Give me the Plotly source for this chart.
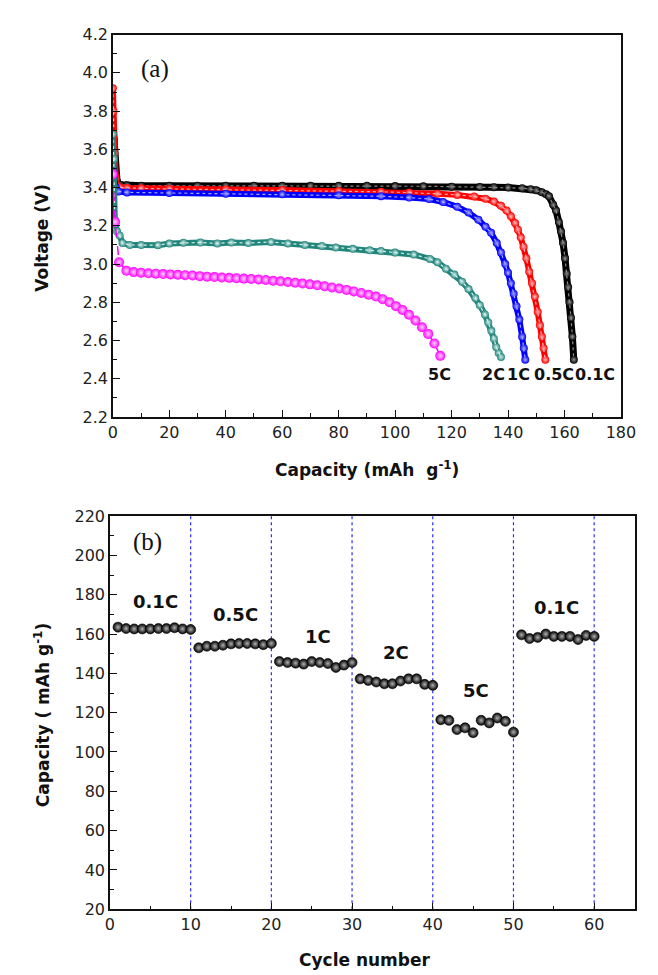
import plotly.graph_objects as go

# ---------------- Panel (a): discharge curves ----------------
cap_01C = [0, 0.3, 0.6, 1.0, 1.5, 2.5, 5, 10, 20, 30, 40, 50, 60, 70, 80, 90, 100, 110, 120, 130,
           135, 140, 145, 148, 150, 152, 153.5, 154.5, 156, 157, 158, 158.8, 159.5, 160.2, 160.8,
           161.3, 161.8, 162.3, 162.8, 163.3]
v_01C = [3.74, 3.65, 3.55, 3.47, 3.43, 3.415, 3.412, 3.41, 3.41, 3.41, 3.41, 3.41, 3.41, 3.41, 3.41,
         3.41, 3.408, 3.407, 3.405, 3.403, 3.402, 3.40, 3.397, 3.392, 3.386, 3.376, 3.365, 3.355, 3.31,
         3.28, 3.22, 3.17, 3.11, 3.03, 2.95, 2.88, 2.80, 2.72, 2.62, 2.50]

cap_05C = [0, 0.2, 0.5, 1.0, 1.5, 2.5, 5, 10, 20, 40, 60, 80, 95, 105, 115, 122, 128, 132, 135,
           137.5, 139.5, 141, 142.5, 143.5, 144.5, 145.5, 146.5, 147.5, 148.5, 149.5, 150.5, 151.3,
           152, 152.6, 153.2]
v_05C = [3.92, 3.80, 3.58, 3.45, 3.41, 3.40, 3.398, 3.396, 3.393, 3.39, 3.387, 3.382, 3.378, 3.374,
         3.368, 3.362, 3.354, 3.342, 3.327, 3.305, 3.28, 3.25, 3.215, 3.18, 3.14, 3.09, 3.03, 2.96,
         2.90, 2.83, 2.75, 2.68, 2.62, 2.56, 2.50]

cap_1C = [0, 0.4, 1.0, 2.0, 5, 20, 40, 60, 80, 95, 105, 112, 117, 122, 126, 129.5, 132, 134, 136,
          137.5, 139, 140, 141, 142, 143, 144, 145, 145.6, 146.1]
v_1C = [3.50, 3.46, 3.40, 3.38, 3.375, 3.372, 3.368, 3.365, 3.36, 3.355, 3.348, 3.34, 3.325, 3.30,
        3.27, 3.232, 3.195, 3.164, 3.11, 3.06, 3.00, 2.955, 2.90, 2.845, 2.78, 2.71, 2.62, 2.56, 2.50]

cap_2C = [0, 0.3, 0.7, 1.5, 2.4, 3.4, 6, 10, 16, 20, 25, 31, 37, 42, 48, 56, 62, 68, 74, 79, 85,
          91, 95, 100, 106.6, 112.3, 115, 118, 121, 123.7, 126, 128.4, 130, 131.8, 133, 134.1, 135,
          135.8, 136.7, 137.5]
v_2C = [3.68, 3.55, 3.23, 3.17, 3.15, 3.11, 3.10, 3.10, 3.099, 3.108, 3.112, 3.113, 3.108, 3.113,
        3.11, 3.116, 3.108, 3.10, 3.095, 3.087, 3.08, 3.072, 3.068, 3.06, 3.05, 3.027, 3.01, 2.976,
        2.945, 2.908, 2.87, 2.823, 2.785, 2.737, 2.695, 2.651, 2.61, 2.566, 2.535, 2.514]

cap_5C = [0, 0.8, 2.2, 4.8, 7.4, 10, 12.6, 15.2, 17.8, 20.4, 23, 25.6, 28.2, 30.8, 33.4, 36, 38.6,
          41.2, 43.8, 46.4, 49, 51.6, 54.2, 56.8, 59.4, 62, 64.6, 67.2, 69.8, 72.4, 75, 77.6, 80.2,
          82.8, 85.4, 88, 90.6, 93.2, 95.6, 98, 100.3, 102.6, 104.9, 107.2, 109.5, 111.7, 113.9, 116.0]
v_5C = [3.47, 3.22, 3.01, 2.965, 2.958, 2.955, 2.952, 2.95, 2.948, 2.946, 2.944, 2.942, 2.94, 2.937,
        2.934, 2.932, 2.93, 2.928, 2.926, 2.924, 2.922, 2.92, 2.917, 2.913, 2.91, 2.906, 2.902, 2.898,
        2.894, 2.889, 2.884, 2.878, 2.872, 2.865, 2.857, 2.849, 2.84, 2.83, 2.816, 2.80, 2.78, 2.76,
        2.735, 2.705, 2.67, 2.635, 2.585, 2.52]

rate_labels_a = ["5C", "2C", "1C", "0.5C", "0.1C"]
rate_label_x_a = [115.8, 134.7, 143.8, 156.4, 170.7]
rate_label_y_a = 2.42

# ---------------- Panel (b): rate capability ----------------
cycles = list(range(1, 61))
capacity_b = [163.5, 162.8, 162.6, 162.6, 162.6, 162.8, 162.8, 163.2, 162.6, 162.3,
              153.0, 153.8, 153.8, 154.3, 155.0, 155.2, 155.2, 155.0, 154.6, 155.2,
              146.0, 145.5, 145.2, 144.7, 146.0, 145.5, 145.0, 143.0, 144.2, 145.5,
              137.2, 136.4, 135.6, 134.7, 134.7, 136.1, 137.2, 137.2, 134.4, 133.9,
              116.4, 116.1, 111.4, 112.3, 109.8, 116.1, 114.8, 117.3, 115.6, 110.1,
              159.6, 157.7, 158.3, 160.0, 158.8, 158.8, 158.8, 157.2, 159.3, 158.8]
rate_labels_b = ["0.1C", "0.5C", "1C", "2C", "5C", "0.1C"]
rate_label_x_b = [5.6, 15.5, 25.8, 35.4, 45.4, 55.3]
rate_label_y_b = [176.6, 170.1, 158.7, 150.7, 131.2, 173.6]
divider_cycles = [10, 20, 30, 40, 50, 60]

W, H = 658, 975
FONT = "DejaVu Sans"

fig = go.Figure()

curves = [
    # x, y, colour, highlight, dash, line width, marker size, speckle overlay
    (cap_01C, v_01C, "#000000", "#8a8a8a", "solid", 7, 8, True),
    (cap_05C, v_05C, "#ff0000", "#ffb4b4", "solid", 6, 8, True),
    (cap_1C, v_1C, "#0000ff", "#a8a8ff", "solid", 6, 8, True),
    (cap_2C, v_2C, "#22857b", "#d6efec", "solid", 6, 8, True),
    (cap_5C, v_5C, "#ff00ff", "#ffd6ff", "dash", 1.5, 10, False),
]
for cx, cy, col, hl, dash, lw, ms, speck in curves:
    fig.add_trace(go.Scatter(
        x=cx, y=cy, mode="lines+markers", xaxis="x", yaxis="y",
        line=dict(color=col, width=lw, dash=dash),
        marker=dict(symbol="circle", size=ms, color=col,
                    gradient=dict(type="radial", color=hl),
                    line=dict(width=0)),
        showlegend=False, hoverinfo="skip"))
    if speck:
        fig.add_trace(go.Scatter(
            x=cx, y=cy, mode="lines", xaxis="x", yaxis="y",
            line=dict(color=hl, width=1.2, dash="dot"),
            showlegend=False, hoverinfo="skip"))

fig.add_trace(go.Scatter(
    x=cycles, y=capacity_b, mode="markers", xaxis="x2", yaxis="y2",
    marker=dict(symbol="circle", size=10, color="#000000",
                gradient=dict(type="radial", color="#b0b0b0"),
                line=dict(width=0.6, color="#000000")),
    showlegend=False, hoverinfo="skip"))

shapes = []
for c in divider_cycles:
    shapes.append(dict(type="line", xref="x2", yref="y2 domain", x0=c, x1=c, y0=0, y1=1,
                       line=dict(color="#2b2bff", width=1.2, dash="dot"), layer="below"))

annotations = []
for t, x in zip(rate_labels_a, rate_label_x_a):
    annotations.append(dict(text=f"<b>{t}</b>", x=x, y=rate_label_y_a, xref="x", yref="y",
                            showarrow=False, font=dict(family=FONT, size=16, color="#111")))
for t, x, y in zip(rate_labels_b, rate_label_x_b, rate_label_y_b):
    annotations.append(dict(text=f"<b>{t}</b>", x=x, y=y, xref="x2", yref="y2",
                            showarrow=False, font=dict(family=FONT, size=18, color="#111")))
annotations.append(dict(text="(a)", x=15.1, y=4.02, xref="x", yref="y", showarrow=False,
                        font=dict(family="Liberation Serif", size=25, color="#111")))
annotations.append(dict(text="(b)", x=4.6, y=207, xref="x2", yref="y2", showarrow=False,
                        font=dict(family="Liberation Serif", size=25, color="#111")))

title_font = dict(family=FONT, size=17, color="#111")
annotations += [
    dict(text="<b>Voltage (V)</b>", x=30 / W, y=1 - 225 / H, xref="paper", yref="paper",
         textangle=-90, showarrow=False, font=title_font, xanchor="center", yanchor="middle"),
    dict(text="<b>Capacity (mAh  g<sup>-1</sup>)</b>", x=365 / W, y=1 - 461 / H, xref="paper",
         yref="paper", showarrow=False, font=title_font, xanchor="center", yanchor="middle"),
    dict(text="<b>Capacity ( mAh g<sup>-1</sup>)</b>", x=30 / W, y=1 - 712 / H, xref="paper",
         yref="paper", textangle=-90, showarrow=False, font=title_font,
         xanchor="center", yanchor="middle"),
    dict(text="<b>Cycle number</b>", x=363 / W, y=1 - 962 / H, xref="paper", yref="paper",
         showarrow=False, font=title_font, xanchor="center", yanchor="middle"),
]

tick_font = dict(family=FONT, size=16, color="#222")
axis_common = dict(showline=True, linecolor="#111", linewidth=1.5, mirror=True, ticks="inside",
                   ticklen=7, tickwidth=1.3, tickcolor="#111", showgrid=False, zeroline=False,
                   tickfont=tick_font)

fig.update_layout(
    width=W, height=H, margin=dict(l=0, r=0, t=0, b=0),
    paper_bgcolor="white", plot_bgcolor="white",
    xaxis=dict(domain=[103 / W, 627 / W], range=[0, 180], tick0=0, dtick=20, anchor="y",
               minor=dict(ticks="inside", ticklen=4, dtick=10, tickcolor="#111", tickwidth=1.2),
               **axis_common),
    yaxis=dict(domain=[1 - 408 / H, 1 - 18 / H], range=[2.2, 4.2], tick0=2.2, dtick=0.2,
               tickformat=".1f", anchor="x",
               minor=dict(ticks="inside", ticklen=4, dtick=0.1, tickcolor="#111", tickwidth=1.2),
               **axis_common),
    xaxis2=dict(domain=[100 / W, 641 / W], range=[0, 65], tick0=0, dtick=10, anchor="y2",
                minor=dict(ticks="inside", ticklen=4, dtick=5, tickcolor="#111", tickwidth=1.2),
                **axis_common),
    yaxis2=dict(domain=[1 - 910 / H, 1 - 509 / H], range=[20, 220], tick0=20, dtick=20,
                anchor="x2",
                minor=dict(ticks="inside", ticklen=4, dtick=10, tickcolor="#111", tickwidth=1.2),
                **axis_common),
    shapes=shapes, annotations=annotations,
)

fig.write_html("out.html")
